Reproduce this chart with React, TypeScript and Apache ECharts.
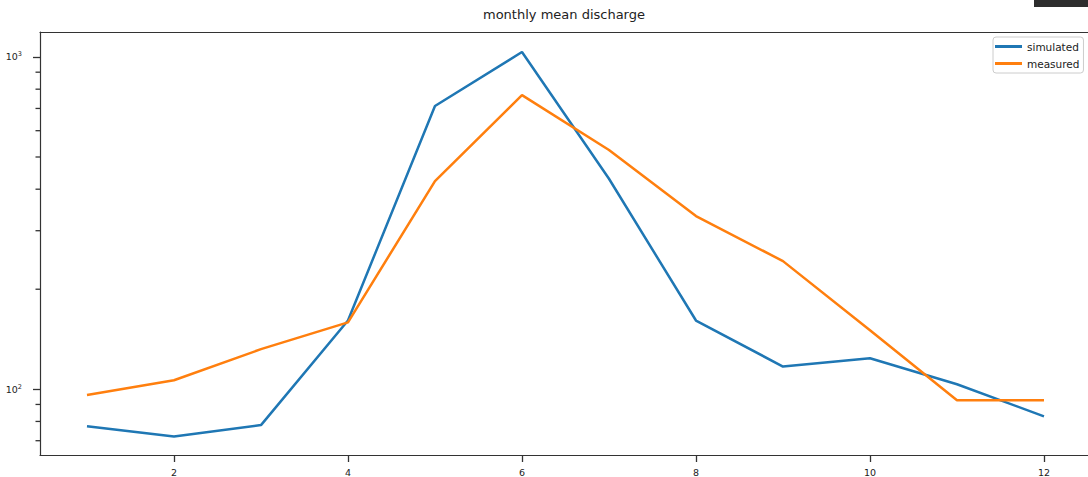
import React, { useEffect, useRef } from "react";
import * as echarts from "echarts";

const months = [1, 2, 3, 4, 5, 6, 7, 8, 9, 10, 11, 12];
const simulated = [77.4, 72.1, 78, 161, 712, 1035, 430, 161, 117, 124, 103.5, 82.9];
const measured = [96.1, 106.4, 132, 159, 423, 768, 525, 332, 243, 150.6, 92.7, 92.7];
const xTicks = [2, 4, 6, 8, 10, 12];
const yMajorTicks = [100, 1000];
const yMinorTicks = [70, 80, 90, 200, 300, 400, 500, 600, 700, 800, 900];

const FONT = "DejaVu Sans";
const AXIS_COLOR = "#333";

export default function App() {
  const ref = useRef<HTMLDivElement>(null);
  useEffect(() => {
    document.body.style.margin = "0";
    const chart = echarts.init(ref.current!, null, { renderer: "svg" });
    const yMin = 63.4;
    const yMax = 1189;
    const xMin = 0.46;
    const xMax = 12.506;
    chart.setOption({
      animation: false,
      backgroundColor: "#fff",
      textStyle: { fontFamily: FONT },
      title: {
        text: "monthly mean discharge",
        left: 483,
        top: 8,
        padding: 0,
        textStyle: { fontFamily: FONT, fontSize: 13, fontWeight: "normal", color: "#222" },
      },
      legend: {
        orient: "vertical",
        left: 993,
        top: 37,
        padding: [3, 4, 3, 2],
        itemGap: 4,
        itemWidth: 27,
        itemHeight: 3,
        icon: "rect",
        backgroundColor: "rgba(255,255,255,0.8)",
        borderColor: "#ccc",
        borderWidth: 1,
        borderRadius: 3,
        textStyle: { fontFamily: FONT, fontSize: 10.5, color: "#222", lineHeight: 13 },
        data: ["simulated", "measured"],
      },
      grid: { left: 40, top: 32, right: 0, bottom: 22 },
      xAxis: [
        {
          type: "value",
          min: xMin,
          max: xMax,
          position: "bottom",
          axisLine: { show: true, lineStyle: { color: AXIS_COLOR, width: 1.2 } },
          axisTick: { show: true, customValues: xTicks, length: 7, lineStyle: { color: AXIS_COLOR, width: 1.3 } },
          axisLabel: {
            customValues: xTicks,
            margin: 12,
            fontFamily: FONT,
            fontSize: 9.5,
            color: "#222",
          },
          splitLine: { show: false },
        },
        {
          type: "value",
          min: xMin,
          max: xMax,
          position: "top",
          axisLine: { show: true, lineStyle: { color: AXIS_COLOR, width: 1.2 } },
          axisTick: { show: false },
          axisLabel: { show: false },
          splitLine: { show: false },
        },
      ],
      yAxis: [
        {
          type: "log",
          min: yMin,
          max: yMax,
          position: "left",
          axisLine: { show: true, lineStyle: { color: AXIS_COLOR, width: 1.2 } },
          axisTick: { show: true, customValues: yMajorTicks, length: 7, lineStyle: { color: AXIS_COLOR, width: 1.3 } },
          axisLabel: {
            customValues: yMajorTicks,
            margin: 18,
            formatter: (v: number) => `{b|10}{s|${Math.round(Math.log10(v))}}`,
            rich: {
              b: { fontFamily: FONT, fontSize: 9.5, color: "#222", lineHeight: 12 },
              s: { fontFamily: FONT, fontSize: 6.5, color: "#222", lineHeight: 8, verticalAlign: "top" },
            },
          },
          splitLine: { show: false },
        },
      ],
      series: [
        {
          name: "simulated",
          type: "line",
          data: months.map((m, i) => [m, simulated[i]]),
          showSymbol: false,
          symbol: "none",
          lineStyle: { color: "#1f77b4", width: 2.5 },
          itemStyle: { color: "#1f77b4" },
        },
        {
          name: "measured",
          type: "line",
          data: months.map((m, i) => [m, measured[i]]),
          showSymbol: false,
          symbol: "none",
          lineStyle: { color: "#ff7f0e", width: 2.5 },
          itemStyle: { color: "#ff7f0e" },
        },
      ],
    });
    // minor ticks of the log axis, placed through the chart's own y scale
    const minorLines = yMinorTicks.map((v) => {
      const p = chart.convertToPixel({ xAxisIndex: 0, yAxisIndex: 0 }, [xMin, v]) as number[];
      return {
        type: "line",
        shape: { x1: p[0] - 4.5, y1: p[1], x2: p[0], y2: p[1] },
        style: { stroke: AXIS_COLOR, lineWidth: 1.3 },
        z: 50,
      };
    });
    chart.setOption({
      graphic: [
        { type: "rect", shape: { x: 1034, y: 0, width: 54, height: 7 }, style: { fill: "#2d2d2d" }, z: 100 },
        ...minorLines,
      ],
    });
    return () => chart.dispose();
  }, []);
  return <div ref={ref} style={{ width: 1088, height: 477 }} />;
}
